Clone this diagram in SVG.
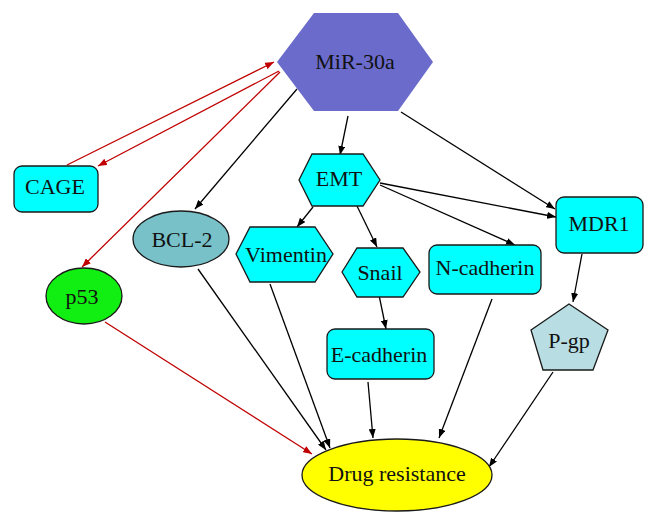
<svg xmlns="http://www.w3.org/2000/svg" width="658" height="525" viewBox="0 0 658 525">
<defs>
<marker id="ab" markerUnits="userSpaceOnUse" markerWidth="9" markerHeight="7" refX="9" refY="3.5" orient="auto"><path d="M0,0 L9,3.5 L0,7 z" fill="#000"/></marker>
<marker id="ar" markerUnits="userSpaceOnUse" markerWidth="9" markerHeight="7" refX="9" refY="3.5" orient="auto"><path d="M0,0 L9,3.5 L0,7 z" fill="#c00000"/></marker>
</defs>
<style>
text{font-family:"Liberation Serif","Times New Roman",serif;font-size:22px;fill:#111;text-anchor:middle}
.n{stroke:#1a1a1a;stroke-width:1.3}
.cy{fill:#00ffff}
.b{stroke:#000;stroke-width:1.3;fill:none;marker-end:url(#ab)}
.r{stroke:#c00000;stroke-width:1.3;fill:none;marker-end:url(#ar)}
</style>
<rect width="658" height="525" fill="#fff"/>
<g id="connectors">
<line class="r" x1="67" y1="165" x2="274" y2="62"/>
<line class="r" x1="279" y1="71" x2="98" y2="166"/>
<line class="r" x1="280" y1="72" x2="82" y2="267"/>
<line class="r" x1="105" y1="322" x2="312" y2="454"/>
<line class="b" x1="297" y1="89" x2="195" y2="209"/>
<line class="b" x1="348" y1="116" x2="340" y2="155"/>
<line class="b" x1="401" y1="112" x2="555" y2="209"/>
<line class="b" x1="380" y1="183" x2="556" y2="217"/>
<line class="b" x1="380" y1="185" x2="515" y2="245"/>
<line class="b" x1="313" y1="207" x2="297" y2="227"/>
<line class="b" x1="357" y1="206" x2="377" y2="247"/>
<line class="b" x1="379" y1="295" x2="386" y2="329"/>
<line class="b" x1="582" y1="254" x2="573" y2="302"/>
<line class="b" x1="198" y1="269" x2="326" y2="450"/>
<line class="b" x1="270" y1="284" x2="330" y2="448"/>
<line class="b" x1="368" y1="382" x2="373" y2="438"/>
<line class="b" x1="492" y1="299" x2="439" y2="438"/>
<line class="b" x1="553" y1="372" x2="489" y2="467"/>
</g>
<g id="mir30a">
<polygon points="277,62 314,13 398,13 433,62 398,111 314,111" fill="#6b6bcb"/>
<text x="355" y="69">MiR-30a</text>
</g>
<g id="cage">
<rect class="n cy" x="14" y="166" width="84" height="46" rx="8"/>
<text x="55" y="194">CAGE</text>
</g>
<g id="emt">
<polygon class="n cy" points="299,180 312,154 363,154 380,180 363,206 312,206"/>
<text x="339" y="186">EMT</text>
</g>
<g id="bcl2">
<ellipse class="n" cx="181" cy="239" rx="48" ry="28" fill="#78c1c8"/>
<text x="182" y="247">BCL-2</text>
</g>
<g id="p53">
<ellipse class="n" cx="84" cy="296" rx="38" ry="28" fill="#11ee11"/>
<text x="82" y="304">p53</text>
</g>
<g id="vimentin">
<polygon class="n cy" points="236,254 250,227 315,227 333,254 315,282 250,282"/>
<text x="286" y="262">Vimentin</text>
</g>
<g id="snail">
<polygon class="n cy" points="342,272 357,248 403,248 420,272 403,297 357,297"/>
<text x="380" y="280">Snail</text>
</g>
<g id="ncadherin">
<rect class="n cy" x="429" y="245" width="112" height="49" rx="8"/>
<text x="485" y="275">N-cadherin</text>
</g>
<g id="mdr1">
<rect class="n cy" x="556" y="197" width="87" height="56" rx="8"/>
<text x="599" y="231">MDR1</text>
</g>
<g id="ecadherin">
<rect class="n cy" x="327" y="329" width="107" height="50" rx="8"/>
<text x="379" y="362">E-cadherin</text>
</g>
<g id="pgp">
<polygon class="n" points="569,304 608,330 593,370 543,370 531,330" fill="#b8dde2"/>
<text x="569" y="348">P-gp</text>
</g>
<g id="drug">
<ellipse class="n" cx="397" cy="475" rx="95" ry="36" fill="#ffff00"/>
<text x="397" y="481">Drug resistance</text>
</g>
</svg>
